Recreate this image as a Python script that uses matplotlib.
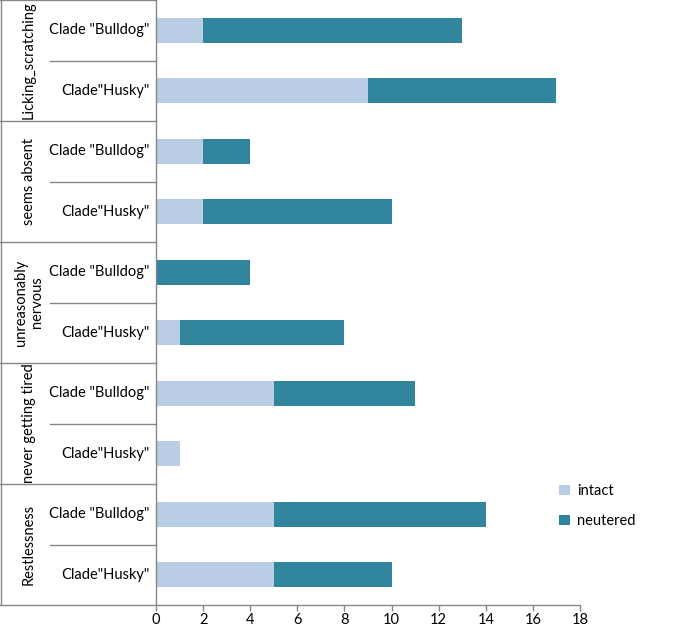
import matplotlib
matplotlib.use("Agg")
import matplotlib.pyplot as plt
from matplotlib.lines import Line2D

plt.rcParams['font.family'] = ['Lato', 'DejaVu Sans']

groups = ["Licking_scratching", "seems absent", "unreasonably\nnervous",
          "never getting tired", "Restlessness"]
clades = ['Clade "Bulldog"', 'Clade"Husky"']
intact = [2, 9, 2, 2, 0, 1, 5, 1, 5, 5]
neutered = [11, 8, 2, 8, 4, 7, 6, 0, 9, 5]
xticks = [0, 2, 4, 6, 8, 10, 12, 14, 16, 18]

c_intact = "#B9CDE5"
c_neut = "#31859C"
gray = "#878787"

W, H = 680, 629
fig = plt.figure(figsize=(W/100, H/100), dpi=100)
ax_left, ax_right, ax_top, ax_bot = 156, 580, 0, 605
ax = fig.add_axes([ax_left/W, 1-ax_bot/H, (ax_right-ax_left)/W, (ax_bot-ax_top)/H])

n = len(intact)
ypos = list(range(n))
ax.barh(ypos, intact, height=0.41, color=c_intact, label="intact")
ax.barh(ypos, neutered, left=intact, height=0.41, color=c_neut, label="neutered")
ax.set_ylim(n-0.5, -0.5)
ax.set_xlim(0, 18)
ax.set_xticks(xticks)
ax.set_yticks([])
for s in ["top", "right"]:
    ax.spines[s].set_visible(False)
for s in ["left", "bottom"]:
    ax.spines[s].set_color(gray)
    ax.spines[s].set_linewidth(1.0)
ax.tick_params(axis='x', colors=gray, length=4, width=1.0, labelsize=10.5, labelcolor="black", pad=2)

def axx(px):
    return (px - ax_left) / (ax_right - ax_left)

trans = ax.get_yaxis_transform()
kw = dict(color=gray, lw=1.0, clip_on=False, transform=trans)
ax.add_line(Line2D([axx(0.5), axx(0.5)], [-0.5, n-0.5], **kw))
for g in range(len(groups)+1):
    yb = g*2 - 0.5
    ax.add_line(Line2D([axx(0), 0], [yb, yb], **kw))
for g in range(len(groups)):
    ym = g*2 + 0.5
    ax.add_line(Line2D([axx(50), 0], [ym, ym], **kw))
    ax.text(axx(29), g*2 + 0.5, groups[g], rotation=90, ha='center', va='center',
            fontsize=10.5, transform=trans, linespacing=1.2, multialignment='center')
for i in range(n):
    ax.text(axx(149), i, clades[i % 2], ha='right', va='center', fontsize=10.5,
            transform=trans)

fig.legend(loc='center left', bbox_to_anchor=(546/W, 1-506/H), frameon=False,
           fontsize=10.5, handlelength=0.75, handleheight=0.75, labelspacing=1.1,
           handletextpad=0.5)

fig.savefig("out.png", dpi=100)
